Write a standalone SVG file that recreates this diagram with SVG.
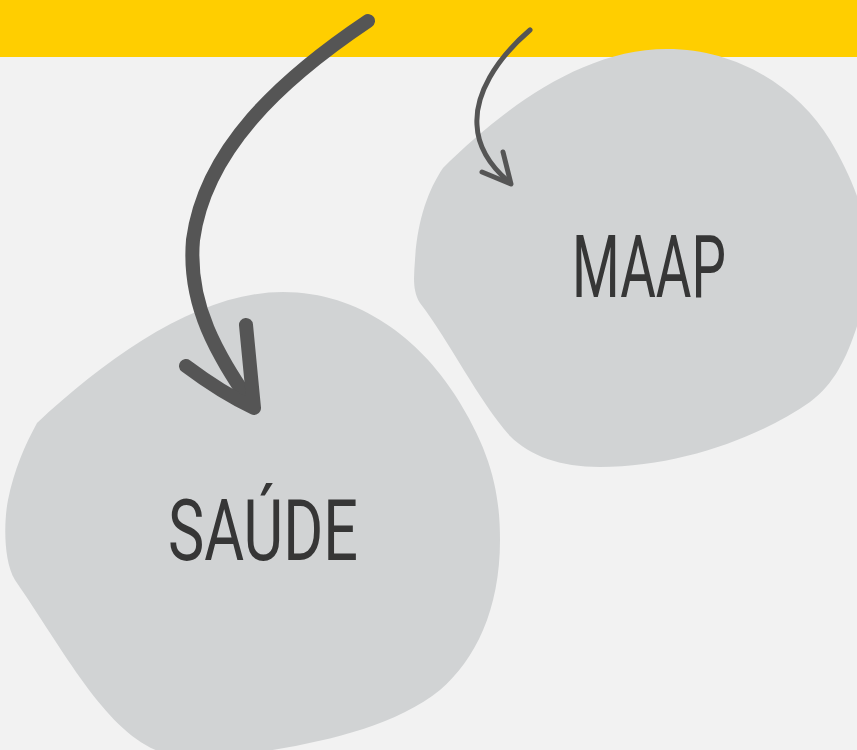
<svg xmlns="http://www.w3.org/2000/svg" width="857" height="750" viewBox="0 0 857 750">
<style>
.blob{fill:#D1D3D4}
.lbl{font-family:Roboto,"Liberation Sans",sans-serif;font-weight:400;fill:#363636}
.arr{fill:none;stroke:#555555;stroke-linecap:round;stroke-linejoin:round}
</style>
<rect x="0" y="0" width="857" height="750" fill="#F2F2F2"/>
<rect x="0" y="0" width="857" height="57" fill="#FFCE00"/>
<g id="node-maap">
<path class="blob" d="M 667,49 C 740,49 800,90 830,140 C 860,190 880,250 865,300 C 852,345 840,380 810,402 C 760,437 680,467 600,467 C 560,467 530,456 510,436 C 478,400 450,342 420,303 C 412,290 414,275 415,260 C 417,222 428,190 443,168 C 500,112 580,49 667,49 Z"/>
<text class="lbl" x="572" y="297" font-size="87" textLength="154" lengthAdjust="spacingAndGlyphs">MAAP</text>
</g>
<g id="node-saude">
<path class="blob" d="M 283,292 C 360,292 420,340 455,395 C 490,450 500,490 500,540 C 500,610 475,660 440,690 C 390,730 310,745 240,755 L 170,755 C 110,740 70,660 15,580 C 3,560 4,520 8,500 C 14,470 25,445 37,423 C 110,355 200,292 283,292 Z"/>
<text class="lbl" x="168" y="560" font-size="86" textLength="190" lengthAdjust="spacingAndGlyphs">SAÚDE</text>
</g>
<g id="connectors">
<path class="arr" stroke-width="14" d="M 368,21 C 280,80 205,150 193,240 C 187,310 222,360 252,406"/>
<path class="arr" stroke-width="14" d="M 186,366 Q 222,393 254,408 L 246,325"/>
<path class="arr" stroke-width="5" d="M 530,30 C 495,60 475,95 477,125 C 478,150 495,170 509,182"/>
<path class="arr" stroke-width="5" d="M 482,172 L 511,184 L 503,152"/>
</g>
</svg>
